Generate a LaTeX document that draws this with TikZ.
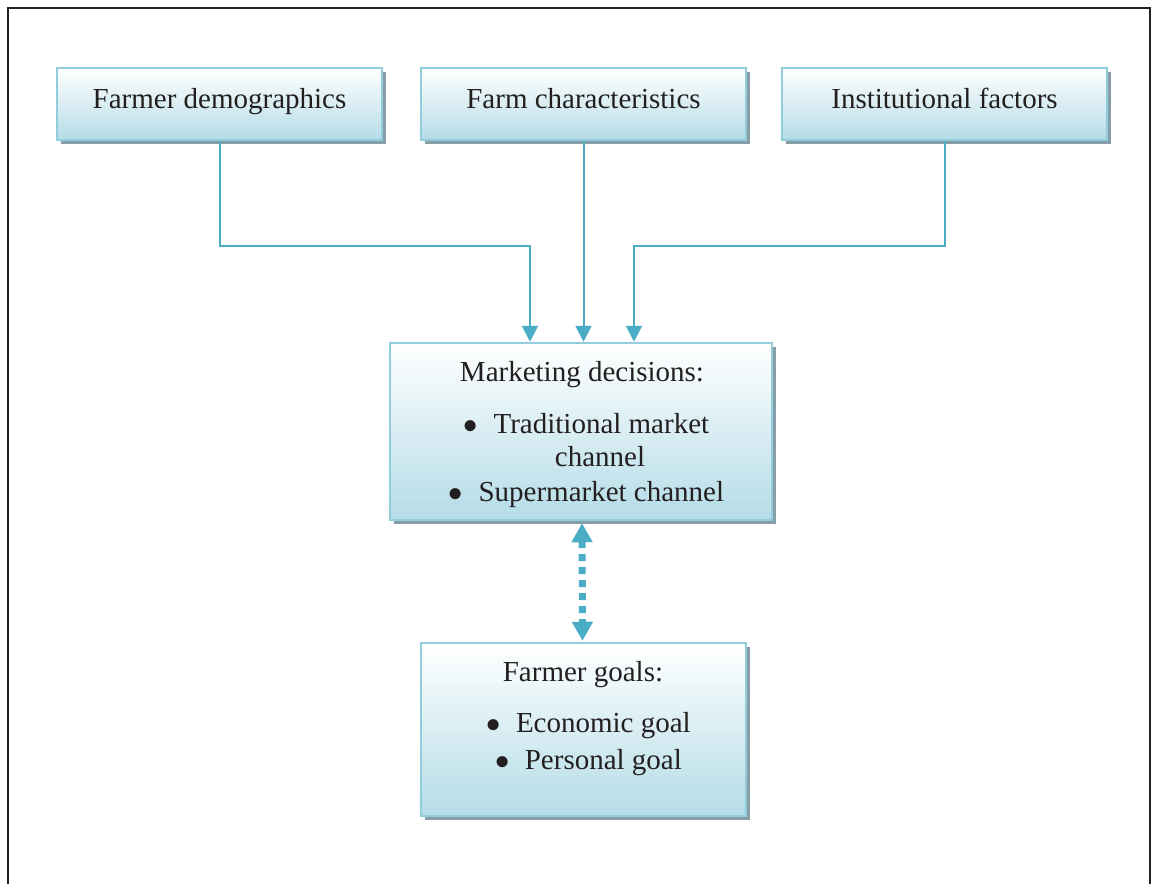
\documentclass[tikz,border=0pt]{standalone}
\usepackage{fontspec}
\usepackage{graphicx}
\setmainfont{Liberation Serif}
\usetikzlibrary{arrows.meta,shadows,calc}
\definecolor{borderblue}{RGB}{146,205,220}
\definecolor{arrowblue}{RGB}{75,172,198}
\definecolor{fillbottom}{RGB}{180,220,231}
\definecolor{shadowgrey}{RGB}{135,158,168}
\definecolor{textdark}{RGB}{35,31,32}
\definecolor{framedark}{RGB}{35,35,35}
\newcommand{\bigbul}{\raisebox{-7.5pt}{\scalebox{1.6}{\textbullet}}\hspace{0.5em}}
\tikzset{
  box/.style={draw=borderblue, line width=2.5pt, top color=white, bottom color=fillbottom,
    inner sep=0pt, text=textdark, font=\fontsize{29}{35}\selectfont,
    text height=20pt, text depth=12pt,
    drop shadow={shadow xshift=4pt, shadow yshift=-4pt, fill=shadowgrey, opacity=1}},
  txt/.style={inner sep=0pt, text=textdark, font=\fontsize{29}{35}\selectfont,
    text height=20pt, text depth=7pt},
  conn/.style={draw=arrowblue, line width=2pt, -{Triangle[width=16pt,length=16pt]}},
  dotconn/.style={draw=arrowblue, line width=7pt, dash pattern=on 7pt off 6pt,
    {Triangle[width=20pt,length=19pt]}-{Triangle[width=20pt,length=19pt]}},
  frameline/.style={draw=framedark, line width=2pt}
}
\begin{document}
\begin{tikzpicture}[x=1pt,y=-1pt]
\useasboundingbox (0,0) rectangle (1152,884);
\draw[frameline] (8,884) -- (8,8) -- (1150,8) -- (1150,884);

\node[box, minimum width=325pt, minimum height=72pt] (fd) at (219.5,104) {Farmer demographics};
\node[box, minimum width=325pt, minimum height=72pt] (fc) at (583.5,104) {Farm characteristics};
\node[box, minimum width=325pt, minimum height=72pt] (inst) at (944.5,104) {Institutional factors};
\node[box, minimum width=382pt, minimum height=177pt] (md) at (581,431.5) {};
\node[box, minimum width=325pt, minimum height=173pt] (fg) at (583.5,729.5) {};

\node[txt] (mdt) at (582,375) {Marketing decisions:};
\node[txt] (md1) at (586,427) {\bigbul Traditional market};
\node[txt] (md2) at (600,460) {channel};
\node[txt] (md3) at (586,495) {\bigbul Supermarket channel};

\node[txt] (fgt) at (583,675) {Farmer goals:};
\node[txt] (fg1) at (588,726) {\bigbul Economic goal};
\node[txt] (fg2) at (588,763) {\bigbul Personal goal};

\coordinate (j1) at (530,246);
\coordinate (j3) at (634,246);
\draw[conn] (fd.south) |- (j1) -- (j1 |- md.north);
\draw[conn] (fc.south) -- (fc.south |- md.north);
\draw[conn] (inst.south) |- (j3) -- (j3 |- md.north);
\draw[dotconn] ($(md.south)+(1,2)$) -- ($(fg.north)+(-1,-1)$);
\end{tikzpicture}
\end{document}
